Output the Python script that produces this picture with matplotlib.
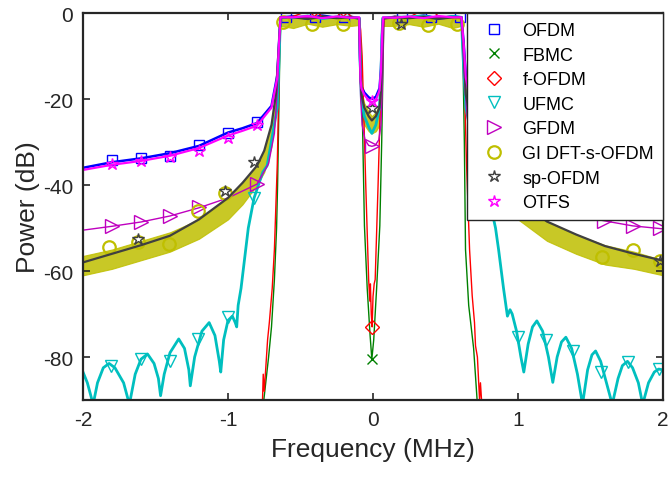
import numpy as np
import matplotlib
matplotlib.use("Agg")
from matplotlib import pyplot as plt
from matplotlib.lines import Line2D

plt.rcParams['font.family'] = ['Liberation Sans', 'DejaVu Sans']
plt.rcParams['axes.unicode_minus'] = False

# ---------------- data (MHz, dB) ----------------
# OFDM
ofdm_f = [-2.0, -1.8, -1.6, -1.4, -1.2, -1.0, -0.9, -0.8, -0.7, -0.66, -0.648, -0.638,
          -0.55, -0.45, -0.35, -0.25, -0.15, -0.095, -0.09, -0.086, -0.08, -0.06, -0.03, -0.008,
          0.02, 0.045, 0.055, 0.063, 0.07, 0.15, 0.25, 0.35, 0.45, 0.55, 0.61,
          0.625, 0.64, 0.68, 0.78, 0.9, 1.0, 1.2, 1.4, 1.6, 1.8, 2.0]
ofdm_p = [-36, -34.7, -33.8, -32.6, -30.9, -27.8, -26.8, -25.6, -21.6, -14.5, -6.8, -1,
          -0.8, -1.3, -0.6, -1.1, -0.9, -1.2, -10, -15, -17, -18.5, -19.6, -20,
          -19.5, -17.5, -13, -5, -1.2, -0.9, -1.1, -0.6, -1.2, -0.8, -1,
          -6.8, -14.5, -21.6, -25.6, -26.8, -27.8, -30.9, -32.6, -33.8, -34.7, -36]
ofdm_mf = [-1.8, -1.6, -1.4, -1.2, -1.0, -0.8, -0.6, -0.4, -0.2, 0.2, 0.4, 0.6, 2.0]
ofdm_mp = [-34.3, -33.7, -33.2, -30.6, -27.9, -25.3, -1, -1, -1, -1, -1, -1, -35.5]

# FBMC
fbmc_f = [-0.78, -0.753, -0.72, -0.7, -0.68, -0.665, -0.658, -0.648, -0.642, -0.636,
          -0.55, -0.45, -0.35, -0.25, -0.15, -0.095, -0.088, -0.081, -0.07, -0.059, -0.04, -0.02, -0.008,
          0.005, 0.025, 0.047, 0.06, 0.07, 0.075, 0.15, 0.25, 0.35, 0.45, 0.55, 0.61,
          0.62, 0.63, 0.638, 0.66, 0.694, 0.718, 0.74]
fbmc_p = [-96, -90, -80, -73, -62, -50, -40, -20, -8, -1,
          -0.9, -1.2, -0.7, -1.0, -0.8, -1.2, -5, -10.7, -30, -49.5, -64, -75, -80.5,
          -76, -64, -49.5, -30, -10.7, -1.2, -0.8, -1.0, -0.7, -1.2, -0.9, -1,
          -10, -30, -55, -68, -78, -90, -96]
fbmc_mf = [-0.008]
fbmc_mp = [-80.5]

# f-OFDM
fofdm_f = [-0.78, -0.762, -0.757, -0.75, -0.727, -0.715, -0.695, -0.68, -0.66, -0.645, -0.636,
           -0.55, -0.41, -0.35, -0.25, -0.21, -0.15, -0.095, -0.085, -0.075, -0.05, -0.03, -0.022, -0.018, -0.012, -0.006,
           0.0, 0.008, 0.015, 0.035, 0.06, 0.07, 0.078, 0.15, 0.25, 0.39, 0.45, 0.55, 0.61,
           0.625, 0.645, 0.666, 0.684, 0.7, 0.707, 0.72, 0.735, 0.741, 0.76]
fofdm_p = [-96, -90, -84, -88, -76, -72, -64, -55, -35, -10, -1,
           -0.8, 1.0, -0.9, -1.1, 1.0, -0.8, -1.2, -4, -10, -40, -62, -67, -63, -70, -73,
           -66, -63, -62, -40, -10, -4, -1.2, -0.8, -1.0, 1.6, -0.8, -1.1, -1,
           -10, -35, -55, -65.7, -72, -77.4, -80, -90, -86, -96]
fofdm_mf = [-0.41, -0.21, -0.006, 0.39]
fofdm_mp = [1.0, 1.0, -73, 1.6]

# UFMC
ufmc_f = [-2.0, -1.97, -1.93, -1.9, -1.86, -1.82, -1.78, -1.72, -1.68, -1.64, -1.6, -1.555,
          -1.51, -1.48, -1.465, -1.44, -1.4, -1.34, -1.3, -1.27, -1.26, -1.23, -1.18, -1.13,
          -1.09, -1.06, -1.05, -1.03, -1.0, -0.97, -0.95, -0.94, -0.93, -0.91, -0.86, -0.82,
          -0.76, -0.73, -0.66, -0.645, -0.638,
          -0.55, -0.45, -0.35, -0.25, -0.15, -0.094, -0.088, -0.08, -0.06, -0.03, -0.008,
          0.02, 0.045, 0.055, 0.062, 0.068, 0.15, 0.25, 0.35, 0.45, 0.55, 0.61,
          0.618, 0.64, 0.72, 0.8, 0.845, 0.866, 0.9, 0.927, 0.945, 0.96, 0.99, 1.02, 1.04,
          1.07, 1.1, 1.13, 1.17, 1.21, 1.24, 1.27, 1.3, 1.33, 1.37, 1.41, 1.445, 1.48, 1.51,
          1.535, 1.57, 1.61, 1.65, 1.69, 1.72, 1.755, 1.79, 1.83, 1.86, 1.9, 1.94, 1.97, 2.0]
ufmc_p = [-83.5, -86, -91, -86, -82.5, -81.5, -82.5, -86, -91, -84, -80.5, -79.3,
          -81.5, -85, -89, -84, -79, -75.8, -78, -83, -86.7, -80, -74, -72,
          -75, -81, -83.5, -76, -71.5, -70.5, -72, -73, -68, -64, -50, -43,
          -37, -35.5, -22, -8, -1,
          -1.1, -0.7, -1.3, -0.9, -1.0, -1.2, -12, -20, -24, -26.5, -28,
          -26, -22, -14, -5, -1.1, -1.0, -0.9, -0.7, -1.3, -0.8, -1,
          -8, -22, -35, -43, -50, -55, -64, -70.5, -69, -70, -74, -80, -83.5,
          -77, -73, -71.6, -74, -80, -85.9, -80, -76.5, -75.4, -78, -84, -91, -83, -79.5,
          -78.6, -81, -86, -91, -85, -82, -81, -82.5, -86, -91, -86, -83.5, -82.8, -83]
ufmc_mf = [-1.81, -1.6, -1.4, -1.21, -1.0, -0.82, 1.0, 1.19, 1.38, 1.57, 1.76, 1.97]
ufmc_mp = [-82, -80.5, -81, -75.8, -70.7, -43, -75.4, -76, -78.6, -83.5, -81.2, -82.8]

# GFDM
gfdm_f = [-2.0, -1.8, -1.6, -1.4, -1.2, -1.0, -0.8, -0.72, -0.68, -0.66, -0.648, -0.638,
          -0.55, -0.45, -0.35, -0.25, -0.15, -0.095, -0.09, -0.085, -0.075, -0.055, -0.03, -0.008,
          0.015, 0.04, 0.055, 0.062, 0.068, 0.075, 0.15, 0.25, 0.35, 0.45, 0.55, 0.61,
          0.62, 0.635, 0.66, 0.72, 0.8, 1.0, 1.2, 1.4, 1.59, 1.79, 2.0]
gfdm_p = [-50.5, -49.6, -48.6, -47.2, -45.3, -43.0, -39.8, -35, -28, -18, -8, -1,
          -0.9, -1.1, -0.8, -1.0, -0.9, -1.2, -12, -20, -26, -29.5, -30.8, -31,
          -30.8, -29.5, -26, -20, -12, -1.2, -0.9, -1.0, -0.8, -1.1, -0.9, -1,
          -8, -18, -28, -36, -40, -43.5, -45.5, -47, -48.3, -49.5, -50.2]
gfdm_mf = [-1.8, -1.6, -1.4, -1.2, -0.8, -0.008, 1.59, 1.79, 1.98]
gfdm_mp = [-49.5, -48.6, -47.1, -45.2, -39.8, -30.9, -48.3, -49.5, -50.0]

# GI DFT-s-OFDM (dense ripple: upper / lower envelope)
gi_f = [-2.0, -1.8, -1.6, -1.4, -1.2, -1.0, -0.9, -0.8, -0.75, -0.7, -0.67, -0.65, -0.638,
        -0.55, -0.45, -0.35, -0.25, -0.15, -0.095, -0.088, -0.08, -0.06, -0.03, -0.008,
        0.02, 0.045, 0.055, 0.062, 0.068, 0.15, 0.25, 0.35, 0.45, 0.55, 0.61,
        0.625, 0.64, 0.68, 0.72, 0.8, 0.9, 1.0, 1.2, 1.4, 1.6, 1.8, 2.0]
gi_hi = [-56.5, -55.0, -53.0, -51.0, -48.0, -43.0, -39.5, -35.5, -32, -26, -18, -8, -1,
         -0.5, -1.0, -0.6, -0.8, -0.7, -1.0, -12, -18, -21, -23, -24,
         -23, -21, -17, -10, -1, -0.7, -0.8, -0.6, -1.0, -0.5, -1,
         -8, -18, -26, -32, -36, -40, -43.5, -48.5, -51.5, -54, -55.5, -57.5]
gi_lo = [-61, -59.5, -57.5, -55.5, -52.5, -48, -44.5, -40, -37, -31, -22, -10, -3,
         -3.5, -2.5, -3.2, -2.6, -3.0, -2.8, -16, -23, -26, -27.5, -28,
         -27.5, -26, -22, -14, -3, -3.0, -2.6, -3.2, -2.5, -3.5, -3,
         -10, -22, -31, -37, -40.5, -44.5, -48, -53, -56, -58.5, -59.5, -61]
gi_mf = [-1.82, -1.62, -1.41, -1.21, -1.02, -0.62, -0.42, -0.21, 0.18, 0.38, 0.58, 1.58, 1.79, 1.98]
gi_mp = [-54.4, -53.3, -53.7, -46, -41.8, -2.2, -2.6, -2.6, -2.4, -2.8, -2.5, -56.7, -55, -57.7]

# sp-OFDM
sp_f = [-2.0, -1.8, -1.6, -1.4, -1.2, -1.0, -0.9, -0.8, -0.75, -0.7, -0.67, -0.65, -0.638,
        -0.55, -0.45, -0.35, -0.25, -0.15, -0.095, -0.088, -0.08, -0.06, -0.03, -0.008,
        0.02, 0.045, 0.055, 0.062, 0.068, 0.15, 0.25, 0.35, 0.45, 0.55, 0.61,
        0.625, 0.64, 0.68, 0.72, 0.8, 0.9, 1.0, 1.2, 1.4, 1.6, 1.8, 2.0]
sp_p = [-58, -56, -54, -51.8, -48, -43, -39.5, -35.5, -32, -26, -19, -8, -1,
        -1.0, -1.4, -0.9, -1.2, -1.0, -1.3, -13, -19, -22, -24, -25,
        -24, -22, -18, -11, -1.3, -1.0, -1.2, -0.9, -1.4, -1.0, -1,
        -8, -19, -26, -32, -36, -40, -43.5, -48.5, -51.5, -54.2, -56, -57.6]
sp_mf = [-1.62, -1.02, -0.82, -0.008, 0.19, 1.98]
sp_mp = [-52.6, -41.4, -34.7, -22, -2.6, -57.6]

# OTFS
otfs_f = [-2.0, -1.8, -1.6, -1.4, -1.2, -1.0, -0.9, -0.8, -0.7, -0.66, -0.648, -0.638,
          -0.55, -0.45, -0.35, -0.25, -0.15, -0.095, -0.09, -0.086, -0.08, -0.06, -0.03, -0.008,
          0.02, 0.045, 0.055, 0.063, 0.07, 0.15, 0.25, 0.35, 0.45, 0.55, 0.61,
          0.625, 0.64, 0.68, 0.78, 0.9, 1.0, 1.2, 1.4, 1.6, 1.8, 2.0]
otfs_p = [-36.5, -35.3, -34.4, -33.2, -31.4, -28.5, -27.4, -26.2, -22, -15, -7, -1,
          -1.0, -0.7, -1.2, -0.8, -1.1, -1.0, -10, -15.5, -17.5, -19, -20.3, -20.8,
          -20.2, -18, -13.5, -5, -1.0, -1.1, -0.8, -1.2, -0.7, -1.0, -1,
          -7, -15, -22, -26.2, -27.4, -28.5, -31.4, -33.2, -34.4, -35.3, -36.5]
otfs_mf = [-1.8, -1.6, -1.4, -1.2, -1.0, -0.8, -0.008]
otfs_mp = [-35.2, -34.4, -33.6, -32.0, -29.0, -26.0, -20.5]

names = ['OFDM', 'FBMC', 'f-OFDM', 'UFMC', 'GFDM', 'GI DFT-s-OFDM', 'sp-OFDM', 'OTFS']
colores = ['#0000FF', '#008000', '#FF0000', '#00BFBF', '#BF00BF', '#BFBF00', '#404040', '#FF00FF']
marcas = ['s', 'x', 'D', 'v', '>', 'o', '*', '*']
tam = [7, 7, 7, 9, 10, 9, 9, 9]

fig = plt.figure(figsize=(6.69, 4.81), dpi=100)
ax = fig.add_axes([83/669, 1 - 401/481, 580/669, 387/481])

series = [(ofdm_f, ofdm_p, ofdm_mf, ofdm_mp),
          (fbmc_f, fbmc_p, fbmc_mf, fbmc_mp),
          (fofdm_f, fofdm_p, fofdm_mf, fofdm_mp),
          (ufmc_f, ufmc_p, ufmc_mf, ufmc_mp),
          (gfdm_f, gfdm_p, gfdm_mf, gfdm_mp),
          None,
          (sp_f, sp_p, sp_mf, sp_mp),
          (otfs_f, otfs_p, otfs_mf, otfs_mp)]

for i in range(8):
	c = colores[i]
	if i == 5:
		ax.fill_between(gi_f, gi_lo, gi_hi, color=c, linewidth=0.8, alpha=0.85)
		ax.plot(gi_mf, gi_mp, linestyle='none', marker='o', ms=tam[i], mfc='none', mec=c, mew=1.6)
		continue
	f, p, mf, mp = series[i]
	lw = {0: 1.8, 3: 2.0, 6: 1.6, 7: 1.6}.get(i, 1.0)
	ax.plot(f, p, color=c, linewidth=lw)
	ax.plot(mf, mp, linestyle='none', marker=marcas[i], ms=tam[i], mfc='none', mec=c, mew=1.0)

ax.set_xlim(-2, 2)
ax.set_ylim(-90, 0)
ax.set_xticks([-2, -1, 0, 1, 2])
ax.set_yticks([0, -20, -40, -60, -80])
ax.tick_params(direction='in', top=True, right=True, length=5, width=1.2,
               labelsize=15, colors='#262626', pad=7)
for s in ax.spines.values():
	s.set_linewidth(1.6)
	s.set_color('#262626')
ax.set_xlabel('Frequency (MHz)', fontsize=19, color='#262626', labelpad=6)
ax.set_ylabel('Power (dB)', fontsize=19, color='#262626', labelpad=2)

handles = []
for i in range(8):
	mew = 1.6 if i == 5 else 1.0
	handles.append(Line2D([], [], linestyle='none', marker=marcas[i], ms=tam[i], mfc='none',
	                      mec=colores[i], mew=mew))
leg = ax.legend(handles, names, loc='upper right', bbox_to_anchor=(1.0, 1.0), borderaxespad=0,
                fontsize=13, frameon=True, fancybox=False, edgecolor='#262626', framealpha=1.0,
                labelspacing=0.42, handletextpad=0.55, borderpad=0.5, handlelength=2.0)
leg.get_frame().set_linewidth(1.0)

fig.savefig('out.png', dpi=100)
